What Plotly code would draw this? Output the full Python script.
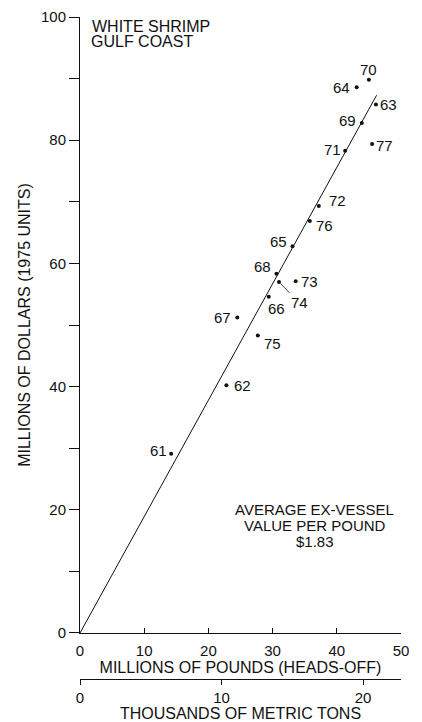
import plotly.graph_objects as go

# ---- data ----
years = ["61", "62", "63", "64", "65", "66", "67", "68", "69",
         "70", "71", "72", "73", "74", "75", "76", "77"]
pounds_millions = [14.2, 22.8, 46.1, 43.1, 33.1, 29.4, 24.5, 30.6, 43.9,
                   45.0, 41.3, 37.2, 33.6, 31.0, 27.7, 35.8, 45.5]
dollars_millions = [29.1, 40.2, 85.8, 88.6, 62.8, 54.6, 51.2, 58.3, 82.8,
                    89.8, 78.3, 69.3, 57.1, 57.0, 48.3, 66.9, 79.4]
fit_x = [0, 46.2]
fit_y = [0, 87.3]
y_tickvals = [0, 10, 20, 30, 40, 50, 60, 70, 80, 90, 100]
y_ticktext = ["0", "", "20", "", "40", "", "60", "", "80", "", "100"]
x_tickvals = [0, 10, 20, 30, 40, 50]
tons_tickvals = [0, 10, 20]
LB_PER_KG = 2.20462
note_lines = ["AVERAGE EX-VESSEL", "VALUE PER POUND", "$1.83"]

# label offsets in pixels (style): (dx, dy) with dy positive = up
label_offsets = {
    "61": (-13, 3), "62": (16, 0), "63": (13, 0), "64": (-15, 0),
    "65": (-14, 5), "66": (8, -12), "67": (-15, 0), "68": (-14, 7),
    "69": (-14, 2), "70": (0, 10), "71": (-13, 1), "72": (19, 6),
    "73": (14, 0), "75": (15, -8), "76": (15, -5), "77": (12, -2),
}

FONT = "Liberation Sans, Arial, Helvetica, sans-serif"
INK = "#111111"

fig = go.Figure()
fig.add_trace(go.Scatter(x=fit_x, y=fit_y, mode="lines",
                         line=dict(color=INK, width=1), hoverinfo="skip",
                         showlegend=False))
fig.add_trace(go.Scatter(x=pounds_millions, y=dollars_millions, mode="markers",
                         marker=dict(color=INK, size=4), showlegend=False))
# invisible trace to carry the metric-ton axis
fig.add_trace(go.Scatter(x=[0], y=[0], xaxis="x2", mode="markers",
                         marker=dict(opacity=0), hoverinfo="skip",
                         showlegend=False))

annotations = []
for yr, xv, yv in zip(years, pounds_millions, dollars_millions):
    if yr == "74":
        annotations.append(dict(x=xv, y=yv, xref="x", yref="y", text=yr,
                                showarrow=True, arrowhead=0, arrowwidth=0.8,
                                arrowcolor=INK, ax=20, ay=21, standoff=2,
                                font=dict(size=15, color=INK, family=FONT)))
        continue
    dx, dy = label_offsets[yr]
    annotations.append(dict(x=xv, y=yv, xref="x", yref="y", text=yr,
                            showarrow=False, xshift=dx, yshift=dy,
                            font=dict(size=15, color=INK, family=FONT)))

annotations.append(dict(x=1.6, y=98.5, xref="x", yref="y", text="WHITE SHRIMP",
                        showarrow=False, xanchor="left", yanchor="middle",
                        font=dict(size=16, color=INK, family=FONT)))
annotations.append(dict(x=1.4, y=96.1, xref="x", yref="y", text="GULF COAST",
                        showarrow=False, xanchor="left", yanchor="middle",
                        font=dict(size=16, color=INK, family=FONT)))
for line, yv in zip(note_lines, [20.1, 17.5, 14.9]):
    annotations.append(dict(x=36.6, y=yv, xref="x", yref="y", text=line,
                            showarrow=False, xanchor="center", yanchor="middle",
                            font=dict(size=15, color=INK, family=FONT)))

fig.update_layout(
    width=422, height=722,
    margin=dict(l=80, r=21, t=17, b=43, autoexpand=False),
    paper_bgcolor="white", plot_bgcolor="white",
    font=dict(family=FONT, size=15, color=INK),
    showlegend=False,
    annotations=annotations,
    xaxis=dict(range=[0, 50], domain=[0, 1], anchor="y",
               tickvals=x_tickvals, ticks="inside", ticklen=5, tickwidth=1,
               tickcolor=INK, showline=True, linecolor=INK, linewidth=1,
               showgrid=False, zeroline=False, automargin=False,
               tickfont=dict(size=15), ticklabelstandoff=4,
               title=dict(text="MILLIONS OF POUNDS (HEADS-OFF)",
                          font=dict(size=16), standoff=2)),
    xaxis2=dict(range=[0, 50 / LB_PER_KG], overlaying="x", anchor="free",
                position=0, side="bottom",
                tickvals=tons_tickvals, ticks="outside", ticklen=5, tickwidth=1,
                tickcolor=INK, showline=True, linecolor=INK, linewidth=1,
                showgrid=False, zeroline=False, automargin=False,
                tickfont=dict(size=15),
                title=dict(text="THOUSANDS OF METRIC TONS",
                           font=dict(size=16), standoff=2)),
    yaxis=dict(range=[0, 100], domain=[0.0695, 1],
               tickvals=y_tickvals, ticktext=y_ticktext,
               ticks="outside", ticklen=10, tickwidth=1, tickcolor=INK,
               showline=True, linecolor=INK, linewidth=1,
               showgrid=False, zeroline=False, automargin=False,
               tickfont=dict(size=15),
               title=dict(text="MILLIONS OF DOLLARS (1975 UNITS)",
                          font=dict(size=16), standoff=6)),
)

fig.write_html("out.html", config={"displayModeBar": False},
               post_script="document.body.style.margin='0';"
                           "document.documentElement.style.overflow='hidden';")
